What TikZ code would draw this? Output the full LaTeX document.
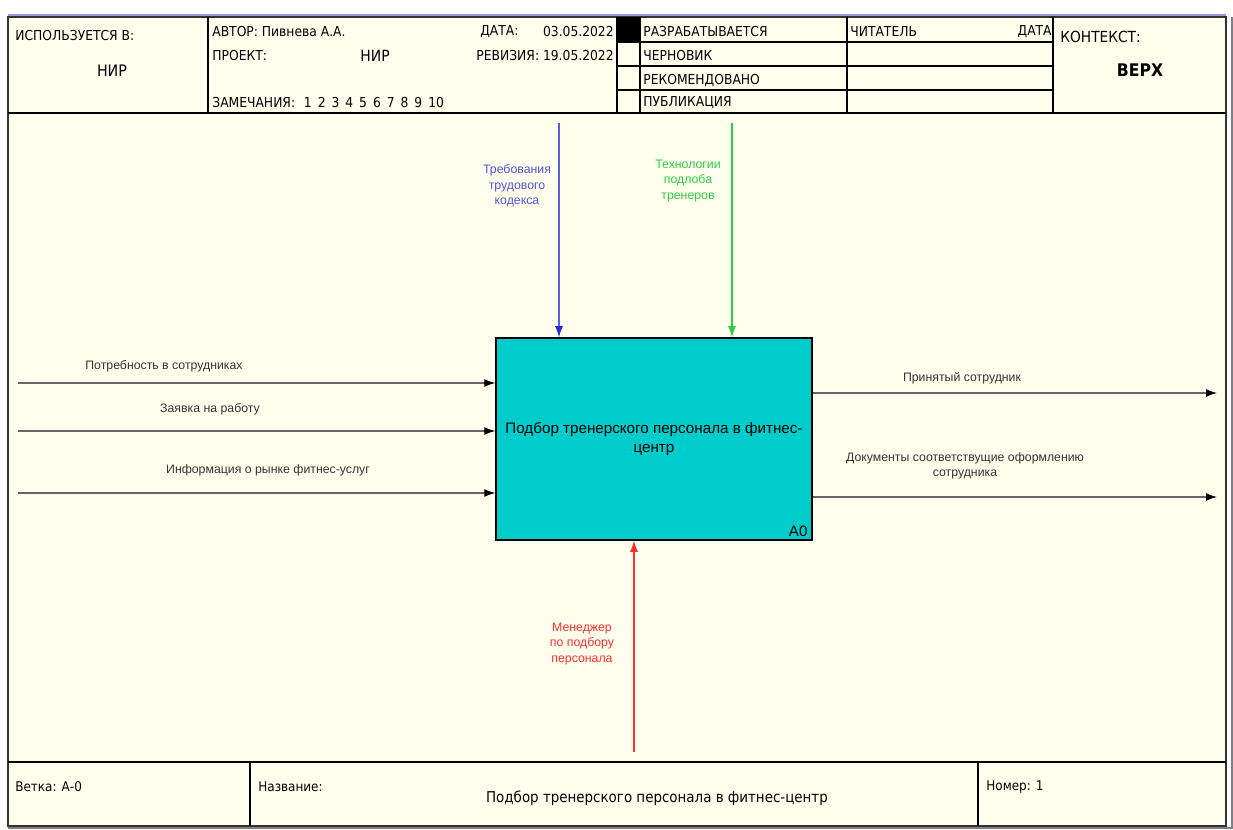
\documentclass[tikz,border=0pt]{standalone}
\usepackage{fontspec}
\setmainfont{Liberation Sans}
\newfontfamily\formfont{DejaVu Sans Condensed}
\usetikzlibrary{arrows.meta}

\definecolor{paper}{RGB}{255,255,238}
\definecolor{boxfill}{RGB}{0,204,204}
\definecolor{ctrlblue}{RGB}{40,40,215}
\definecolor{ctrlgreen}{RGB}{45,205,70}
\definecolor{mechred}{RGB}{255,45,45}

\begin{document}
\begin{tikzpicture}[x=0.02cm, y=-0.02cm, >={Latex[length=2mm,width=1.5mm]},
	every node/.style={inner sep=0pt},
	form/.style={font=\formfont\fontsize{7.8}{9}\selectfont, anchor=west},
	foot/.style={form, font=\formfont\fontsize{7.6}{9}\selectfont},
	lbl/.style={font=\fontsize{7}{8.8}\selectfont, align=center, text=black!80},
	flow/.style={-{Latex[length=2.2mm,width=1.6mm,color=black]}, draw=black!60, line width=0.6pt},
	grid/.style={draw=black, line width=0.6pt}]
	\useasboundingbox (0,0) rectangle (1233,830);
	\fill[white] (0,0) rectangle (1233,830);
	% form frame
	\draw[black!25!blue!40, line width=1pt] (8,15) -- (1226,15);
	\fill[paper] (8,17) rectangle (1226,826);
	\draw[black!50, line width=1pt] (8,828) -- (1232,828) -- (1232,17);
	\draw[black!80, line width=1.2pt] (8,17) rectangle (1226,826);
	% header
	\draw[grid] (8,113) -- (1226,113);
	\foreach \x in {208,617,640,847,1053} \draw[grid] (\x,17) -- (\x,113);
	\foreach \y in {42,66,90} \draw[grid] (617,\y) -- (1053,\y);
	\fill[black] (617,17) rectangle (640,42);
	\node[form] (used) at (15,36) {ИСПОЛЬЗУЕТСЯ В:};
	\node[form, anchor=center, font=\formfont\fontsize{9}{10}\selectfont] (usednir) at (112,71) {НИР};
	\node[form] (author) at (212,32) {АВТОР: Пивнева А.А.};
	\node[form] (project) at (212,56) {ПРОЕКТ:};
	\node[form, anchor=center, font=\formfont\fontsize{8.8}{10}\selectfont] (projnir) at (375,56) {НИР};
	\node[form] (notes) at (212,103) {ЗАМЕЧАНИЯ:\hspace{5pt}1\hspace{3.4pt}2\hspace{3.4pt}3\hspace{3.4pt}4\hspace{3.4pt}5\hspace{3.4pt}6\hspace{3.4pt}7\hspace{3.4pt}8\hspace{3.4pt}9\hspace{3.4pt}10};
	\node[form] (date) at (480,32) {ДАТА:};
	\node[form, anchor=east] (dateval) at (614,32) {03.05.2022};
	\node[form, anchor=east] (rev) at (614,56) {РЕВИЗИЯ: 19.05.2022};
	\node[form] (st1) at (643,32) {РАЗРАБАТЫВАЕТСЯ};
	\node[form] (st2) at (643,56) {ЧЕРНОВИК};
	\node[form] (st3) at (643,80) {РЕКОМЕНДОВАНО};
	\node[form] (st4) at (643,103) {ПУБЛИКАЦИЯ};
	\node[form] (reader) at (850,32) {ЧИТАТЕЛЬ};
	\node[form, anchor=east] (rdate) at (1052,32) {ДАТА};
	\node[form, font=\formfont\fontsize{8.7}{10}\selectfont] (context) at (1060,37) {КОНТЕКСТ:};
	\node[form, anchor=center, font=\formfont\bfseries\fontsize{9.9}{11}\selectfont] (top) at (1140,70) {ВЕРХ};
	% footer
	\draw[grid] (8,762) -- (1226,762);
	\foreach \x in {250,978} \draw[grid] (\x,762) -- (\x,826);
	\node[foot] (branch) at (15,787) {Ветка: А-0};
	\node[foot] (name) at (258,787) {Название:};
	\node[foot, anchor=center, font=\formfont\fontsize{8.5}{10}\selectfont] (title) at (657,798) {Подбор тренерского персонала в фитнес-центр};
	\node[foot] (number) at (986,787) {Номер: 1};

	% function box
	\node[draw=black, line width=0.9pt, fill=boxfill, minimum width=6.32cm, minimum height=4.04cm, align=center, font=\fontsize{8.65}{10.5}\selectfont] (a0) at (654,439) {Подбор тренерского персонала в фитнес-\\центр};
	\node[anchor=south east, xshift=-0.1cm, yshift=0.08cm, font=\fontsize{8.6}{10}\selectfont] (a0num) at (a0.south east) {A0};

	% inputs
	\coordinate (in1) at (18,383);
	\coordinate (in2) at (18,431);
	\coordinate (in3) at (18,493);
	\draw[flow] (in1) -- (in1 -| a0.west);
	\draw[flow] (in2) -- (in2 -| a0.west);
	\draw[flow] (in3) -- (in3 -| a0.west);
	\node[lbl] (lin1) at (164,366) {Потребность в сотрудниках};
	\node[lbl] (lin2) at (210,409) {Заявка на работу};
	\node[lbl] (lin3) at (268,470) {Информация о рынке фитнес-услуг};

	% outputs
	\coordinate (out1) at (1217,393);
	\coordinate (out2) at (1217,497);
	\draw[flow] (out1 -| a0.east) -- (out1);
	\draw[flow] (out2 -| a0.east) -- (out2);
	\node[lbl] (lout1) at (962,378) {Принятый сотрудник};
	\node[lbl] (lout2) at (965,466) {Документы соответствущие оформлению\\сотрудника};

	% controls
	\coordinate (ctl1) at (559,123);
	\coordinate (ctl2) at (732,123);
	\draw[flow, -{Latex[length=2.2mm,width=1.6mm,color=ctrlblue]}, draw=ctrlblue!75] (ctl1) -- (ctl1 |- a0.north);
	\draw[flow, -{Latex[length=2.2mm,width=1.6mm,color=ctrlgreen]}, draw=ctrlgreen] (ctl2) -- (ctl2 |- a0.north);
	\node[lbl, text=ctrlblue!80] (lctl1) at (517,186) {Требования\\трудового\\кодекса};
	\node[lbl, text=ctrlgreen] (lctl2) at (688,181) {Технологии\\подлоба\\тренеров};

	% mechanism
	\coordinate (mech) at (634,752);
	\draw[flow, -{Latex[length=2.2mm,width=1.6mm,color=mechred]}, draw=mechred] (mech) -- (mech |- a0.south);
	\node[lbl, text=mechred] (lmech) at (582,644) {Менеджер\\по подбору\\персонала};
\end{tikzpicture}
\end{document}
